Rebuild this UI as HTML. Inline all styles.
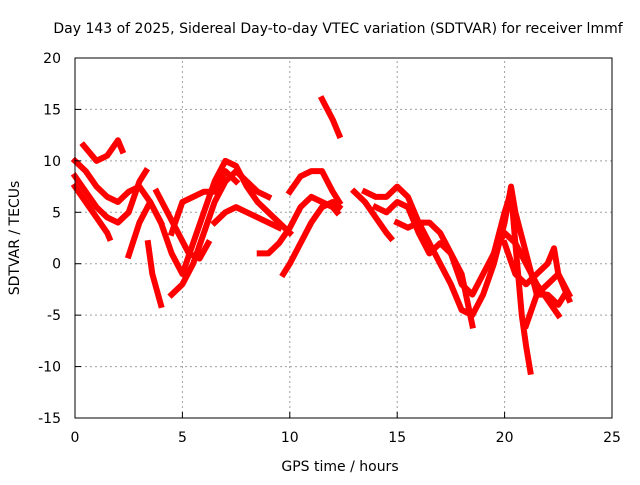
<!DOCTYPE html>
<html><head><meta charset="utf-8"><style>
body{margin:0;background:#fff;}
svg text{font-family:"DejaVu Sans","Liberation Sans",sans-serif;font-size:14px;fill:#000;}
</style></head><body>
<svg id="chart" width="640" height="480" xmlns="http://www.w3.org/2000/svg">
<text x="338" y="33" text-anchor="middle">Day 143 of 2025, Sidereal Day-to-day VTEC variation (SDTVAR) for receiver lmmf</text>
<g id="grid"></g>
<g id="series"></g>
<rect x="75" y="58" width="537" height="360" fill="none" stroke="#000" stroke-width="1"/>
<g id="axes"></g>
<text x="340" y="471" text-anchor="middle">GPS time / hours</text>
<text x="0" y="0" transform="translate(19,238) rotate(-90)" text-anchor="middle">SDTVAR / TECUs</text>
</svg>
<script>
const xTicks=[0,5,10,15,20,25];
const yTicks=[-15,-10,-5,0,5,10,15,20];
const track1=[[0.4,11.5],[1,10],[1.5,10.5],[2,12],[2.2,11]];
const track2=[[0,10],[0.5,9],[1,7.5],[1.5,6.5],[2,6],[2.5,7],[3,7.5],[3.5,6],[4,4]];
const track3=[[0,8.5],[0.5,7],[1,5.5],[1.5,4.5],[2,4],[2.5,5],[3,8],[3.3,9]];
const track4=[[0,7.5],[0.5,6],[1,4.5],[1.5,3],[1.6,2.5]];
const track5=[[2.5,0.8],[3,4],[3.5,6],[4,4],[4.5,1],[5,-1],[5.5,2],[6,5],[6.5,8],[7,10],[7.5,9.5],[8,7.5],[8.5,6],[9,5],[9.5,4],[10,3]];
const track6=[[3.4,2],[3.6,-1],[4,-4]];
const track7=[[4.5,-3],[5,-2],[5.5,0],[6,3],[6.5,6],[7,8],[7.5,9],[8,8],[8.5,7],[9,6.5]];
const track8=[[4.5,3],[5,6],[5.5,6.5],[6,7],[6.5,7],[7,9],[7.5,8]];
const track9=[[6.5,4],[7,5],[7.5,5.5],[8,5],[8.5,4.5],[9,4],[9.5,3.5]];
const track10=[[3.8,7],[4.3,5],[4.8,3],[5.3,1],[5.8,0.5],[6.2,2]];
const track11=[[8.6,1],[9,1],[9.5,2],[10,3.5],[10.5,5.5],[11,6.5],[11.5,6],[12,5.5],[12.2,5]];
const track12=[[9.7,-1],[10,0],[10.5,2],[11,4],[11.5,5.5],[12,6],[12.3,5.5]];
const track13=[[10,7],[10.5,8.5],[11,9],[11.5,9],[12,7],[12.3,6]];
const track14=[[11.5,16],[12,14],[12.3,12.5]];
const track15=[[13,7],[13.5,6],[14,4.5],[14.5,3],[14.7,2.5]];
const track16=[[13.5,7],[14,6.5],[14.5,6.5],[15,7.5],[15.5,6.5],[16,4],[16.5,2],[17,0],[17.5,-2],[18,-4.5],[18.5,-5],[19,-3],[19.5,0],[20,4],[20.3,7.5],[20.5,5],[21,1],[21.5,-3],[22,-3],[22.5,-4],[22.8,-3]];
const track17=[[14,5.5],[14.5,5],[15,6],[15.5,5.5],[16,3],[16.5,1],[17,2],[17.5,1],[18,-2],[18.5,-3],[19,-1],[19.5,1],[20,3],[20.5,2],[21,0],[21.5,-2],[22,-3.5],[22.5,-5]];
const track18=[[15,4],[15.5,3.5],[16,4],[16.5,4],[17,3],[17.5,1],[18,-1],[18.5,-6]];
const track19=[[19.5,1],[20,5],[20.3,7],[20.5,2],[20.8,-5],[21,-8],[21.2,-10.5]];
const track20=[[20,2],[20.5,-1],[21,-2],[21.5,-1],[22,0],[22.3,1.5],[22.5,-1],[23,-3.5]];
const track21=[[21,-6],[21.5,-3],[22,-2],[22.5,-1],[23,-3]];
const tracks=[track1,track2,track3,track4,track5,track6,track7,track8,track9,track10,track11,track12,track13,track14,track15,track16,track17,track18,track19,track20,track21];

const NS="http://www.w3.org/2000/svg";
const X0=75,X1=612,Y0=418,Y1=58;
const xs=v=>X0+(v-0)/(25-0)*(X1-X0);
const ys=v=>Y0-(v+15)/(35)*(Y0-Y1);
const grid=document.getElementById('grid'),axes=document.getElementById('axes'),ser=document.getElementById('series');
function mk(t,a,p){const e=document.createElementNS(NS,t);for(const k in a)e.setAttribute(k,a[k]);p.appendChild(e);return e;}
xTicks.forEach(v=>{
  const x=xs(v);
  if(v>0&&v<25){const g=mk('line',{x1:x,x2:x,y1:Y0,y2:Y1,stroke:'#a0a0a0','stroke-dasharray':'2,3'},grid);
  
  }
  const t=mk('line',{x1:x,x2:x,y1:Y0,y2:Y0-6,stroke:'#000'},axes);
  
  
  const l=mk('text',{x:x,y:Y0+24,'text-anchor':'middle'},axes);l.textContent=v;
  
  
});
yTicks.forEach(v=>{
  const y=ys(v);
  if(v>-15&&v<20){const g=mk('line',{x1:X0,x2:X1,y1:y,y2:y,stroke:'#a0a0a0','stroke-dasharray':'2,3'},grid);
  
  }
  const t=mk('line',{x1:X0,x2:X0+6,y1:y,y2:y,stroke:'#000'},axes);
  
  
  const l=mk('text',{x:X0-14,y:y+5,'text-anchor':'end'},axes);l.textContent=v;
  
  
});
tracks.forEach(tr=>{
  const p=mk('polyline',{points:tr.map(d=>xs(d[0])+','+ys(d[1])).join(' '),fill:'none',stroke:'#ff0000','stroke-width':6,'stroke-linejoin':'round','stroke-linecap':'square'},ser);
  
  
});
</script>
</body></html>
